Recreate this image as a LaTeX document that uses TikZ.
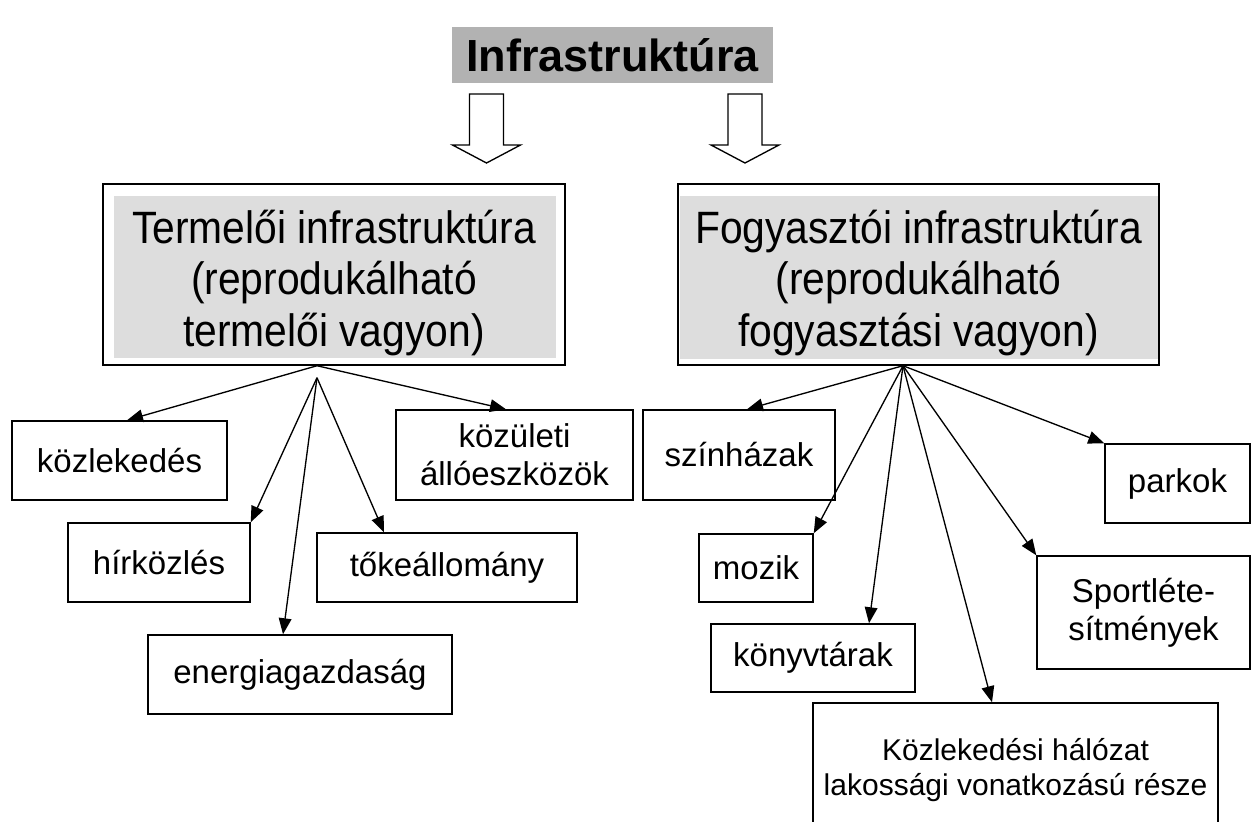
\documentclass[tikz,border=0pt]{standalone}
\usepackage{fontspec}
\setmainfont{Liberation Sans}
\newfontfamily\bignarrow{Liberation Sans}[FakeStretch=0.9]
\usetikzlibrary{calc,arrows.meta}
\definecolor{titlegray}{RGB}{178,178,178}
\definecolor{innergray}{RGB}{221,221,221}
\newcommand{\lowerblock}[1]{\raisebox{0pt}[\dimexpr\height+15pt\relax][\depth]{\begin{tabular}{@{}c@{}}#1\end{tabular}}}
\begin{document}
\begin{tikzpicture}[x=0.75pt,y=-0.75pt,
  sz/.style 2 args={minimum width=#1*0.75pt, minimum height=#2*0.75pt},
  box/.style={draw, line width=1.1pt, rectangle, inner sep=0pt, align=center,
    font=\fontsize{24.75pt}{28.5pt}\selectfont},
  bigbox/.style={draw, line width=1.1pt, rectangle, inner sep=0pt, align=center,
    font=\bignarrow\fontsize{34pt}{38.5pt}\selectfont},
  conn/.style={line width=1pt, -{Triangle[length=12pt,width=9.5pt]}},
  blockarrow/.style={draw, fill=white, line width=1pt, line join=miter},
]
\useasboundingbox (0,0) rectangle (1252,821);
\clip (0,0) rectangle (1252,821);

% title
\node[fill=titlegray, inner sep=0pt, sz={321}{56},
  font=\fontsize{33.75pt}{40pt}\selectfont\bfseries] (title) at (612.5,55) {Infrastruktúra};

% block arrows
\foreach \cx in {486.5,745}{
  \draw[blockarrow] ({\cx-17},94) -- ({\cx+17},94) -- ({\cx+17},145) -- ({\cx+34},145)
    -- (\cx,163) -- ({\cx-34},145) -- ({\cx-17},145) -- cycle;
}

% big boxes
\fill[innergray] (114,196) rectangle (556,358);
\node[bigbox, sz={462}{181}] (leftbig) at (334,274.5)
  {\lowerblock{Termelői infrastruktúra\\(reprodukálható\\termelői vagyon)}};
\fill[innergray] (680,196) rectangle (1158,359);
\node[bigbox, sz={481}{181}] (rightbig) at (918.5,274.5)
  {\lowerblock{Fogyasztói infrastruktúra\\(reprodukálható\\fogyasztási vagyon)}};

% left small boxes
\node[box, sz={215}{79}] (kozl) at (119.5,460.5) {közlekedés};
\node[box, sz={182}{79}] (hir) at (159,562.5) {hírközlés};
\node[box, sz={304}{79}] (energ) at (300,674.5) {energiagazdaság};
\node[box, sz={260}{69}] (toke) at (447,567.5) {tőkeállomány};
\node[box, sz={237}{90}] (kozul) at (514.5,455) {közületi\\állóeszközök};

% right small boxes
\node[box, sz={192}{90}] (szinh) at (739,455) {színházak};
\node[box, sz={114}{68}] (mozik) at (756,568) {mozik};
\node[box, sz={204}{68}] (konyv) at (813,658) {könyvtárak};
\node[box, sz={405}{134}, font=\fontsize{22.5pt}{26.25pt}\selectfont] (kozlh) at (1015.5,770)
  {Közlekedési hálózat\\lakossági vonatkozású része};
\node[box, sz={145}{79}] (parkok) at (1177.5,483.5) {parkok};
\node[box, sz={213}{113}] (sport) at (1143.5,612.5) {Sportléte-\\sítmények};

% connectors, left
\coordinate (lhub) at ($(leftbig.south)+(-17,0)$);
\coordinate (lhub2) at ($(lhub)+(0,12)$);
\draw[conn] (lhub) -- ($(kozl.north)+(7.5,0)$);
\draw[conn] (lhub2) -- (hir.north east);
\draw[conn] (lhub2) -- ($(energ.north)+(-17,0)$);
\draw[conn] (lhub2) -- ($(toke.north)+(-63,0)$);
\draw[conn] (lhub) -- ($(kozul.north)+(-8.5,0)$);

% connectors, right
\coordinate (rhub) at ($(rightbig.south)+(-15.5,0)$);
\draw[conn] (rhub) -- ($(szinh.north)+(8,0)$);
\draw[conn] (rhub) -- (mozik.north east);
\draw[conn] (rhub) -- ($(konyv.north)+(56,0)$);
\draw[conn] (rhub) -- ($(kozlh.north)+(-23.5,0)$);
\draw[conn] (rhub) -- (sport.north west);
\draw[conn] (rhub) -- (parkok.north west);
\end{tikzpicture}
\end{document}
